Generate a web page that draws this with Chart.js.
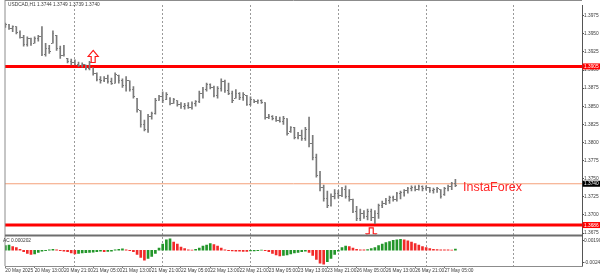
<!DOCTYPE html>
<html><head><meta charset="utf-8">
<script src="https://cdn.jsdelivr.net/npm/chart.js@4.4.1/dist/chart.umd.min.js"></script>
<style>html,body{margin:0;padding:0;background:#fff;overflow:hidden}canvas{display:block}</style>
</head><body>
<canvas id="chart" width="600" height="277"></canvas>
<script>
// ---------------- data ----------------
const symbol = 'USDCAD,H1';
const opens = [
1.3962,1.3963,1.3958,1.3960,1.3952,1.3945,1.3935,1.3944,1.3937,1.3944,
1.3946,1.3922,1.3930,1.3937,1.3948,1.3930,1.3920,1.3916,1.3912,1.3910,
1.3908,1.3906,1.3907,1.3902,1.3903,1.3895,1.3887,1.3885,1.3889,1.3884,
1.3882,1.3893,1.3885,1.3878,1.3885,1.3873,1.3861,1.3844,1.3825,1.3818,
1.3836,1.3840,1.3858,1.3863,1.3859,1.3861,1.3854,1.3858,1.3852,1.3849,
1.3851,1.3848,1.3854,1.3856,1.3868,1.3873,1.3880,1.3876,1.3865,1.3875,
1.3884,1.3872,1.3868,1.3861,1.3868,1.3862,1.3865,1.3853,1.3859,1.3857,
1.3858,1.3855,1.3834,1.3836,1.3833,1.3831,1.3829,1.3833,1.3815,1.3820,
1.3807,1.3810,1.3806,1.3818,1.3798,1.3779,1.3755,1.3738,1.3722,1.3713,
1.3726,1.3730,1.3727,1.3735,1.3726,1.3721,1.3705,1.3695,1.3702,1.3698,
1.3705,1.3696,1.3702,1.3713,1.3716,1.3720,1.3724,1.3721,1.3729,1.3731,
1.3733,1.3736,1.3738,1.3735,1.3739,1.3736,1.3738,1.3733,1.3735,1.3735,
1.3728,1.3736,1.3739,1.3744];
const highs = [
1.3965,1.3963,1.3961,1.3960,1.3954,1.3948,1.3946,1.3944,1.3946,1.3948,
1.3960,1.3937,1.3934,1.3954,1.3948,1.3933,1.3934,1.3916,1.3915,1.3914,
1.3911,1.3910,1.3907,1.3912,1.3903,1.3896,1.3891,1.3891,1.3893,1.3889,
1.3896,1.3893,1.3888,1.3891,1.3885,1.3877,1.3861,1.3844,1.3831,1.3839,
1.3842,1.3861,1.3865,1.3870,1.3869,1.3862,1.3861,1.3858,1.3855,1.3854,
1.3855,1.3856,1.3858,1.3871,1.3876,1.3882,1.3881,1.3878,1.3877,1.3888,
1.3886,1.3882,1.3871,1.3873,1.3869,1.3869,1.3865,1.3863,1.3859,1.3859,
1.3859,1.3855,1.3839,1.3837,1.3836,1.3835,1.3836,1.3833,1.3822,1.3821,
1.3814,1.3817,1.3821,1.3835,1.3810,1.3784,1.3760,1.3741,1.3733,1.3729,
1.3735,1.3734,1.3738,1.3740,1.3735,1.3722,1.3712,1.3708,1.3706,1.3708,
1.3708,1.3706,1.3715,1.3719,1.3723,1.3726,1.3726,1.3731,1.3733,1.3735,
1.3738,1.3740,1.3740,1.3741,1.3740,1.3740,1.3738,1.3737,1.3738,1.3735,
1.3738,1.3741,1.3745,1.3749];
const lows = [
1.3959,1.3956,1.3953,1.3950,1.3944,1.3933,1.3933,1.3934,1.3937,1.3940,
1.3920,1.3919,1.3923,1.3937,1.3927,1.3916,1.3919,1.3910,1.3907,1.3907,
1.3905,1.3904,1.3900,1.3900,1.3893,1.3885,1.3882,1.3884,1.3882,1.3880,
1.3882,1.3882,1.3876,1.3871,1.3871,1.3861,1.3842,1.3821,1.3816,1.3814,
1.3832,1.3839,1.3858,1.3855,1.3859,1.3852,1.3854,1.3850,1.3847,1.3846,
1.3847,1.3846,1.3850,1.3855,1.3861,1.3871,1.3874,1.3863,1.3861,1.3871,
1.3869,1.3866,1.3855,1.3861,1.3859,1.3858,1.3851,1.3851,1.3855,1.3854,
1.3854,1.3832,1.3833,1.3831,1.3829,1.3828,1.3825,1.3810,1.3814,1.3805,
1.3805,1.3803,1.3803,1.3794,1.3776,1.3752,1.3733,1.3719,1.3710,1.3712,
1.3722,1.3723,1.3725,1.3723,1.3719,1.3703,1.3692,1.3692,1.3695,1.3693,
1.3692,1.3688,1.3695,1.3710,1.3714,1.3716,1.3719,1.3719,1.3722,1.3726,
1.3730,1.3733,1.3733,1.3734,1.3733,1.3734,1.3731,1.3730,1.3731,1.3723,
1.3727,1.3733,1.3735,1.3739];
const closes = [
1.3963,1.3958,1.3960,1.3952,1.3945,1.3935,1.3944,1.3937,1.3944,1.3946,
1.3922,1.3930,1.3925,1.3950,1.3930,1.3920,1.3922,1.3912,1.3910,1.3908,
1.3906,1.3908,1.3902,1.3910,1.3895,1.3887,1.3885,1.3889,1.3884,1.3882,
1.3894,1.3885,1.3878,1.3886,1.3873,1.3863,1.3845,1.3825,1.3818,1.3836,
1.3840,1.3858,1.3863,1.3858,1.3866,1.3854,1.3859,1.3852,1.3849,1.3851,
1.3848,1.3854,1.3856,1.3868,1.3873,1.3880,1.3876,1.3865,1.3875,1.3884,
1.3872,1.3868,1.3858,1.3868,1.3862,1.3866,1.3853,1.3860,1.3857,1.3858,
1.3855,1.3834,1.3836,1.3833,1.3831,1.3829,1.3833,1.3812,1.3820,1.3807,
1.3810,1.3806,1.3818,1.3798,1.3779,1.3755,1.3738,1.3722,1.3713,1.3726,
1.3730,1.3727,1.3735,1.3726,1.3721,1.3705,1.3695,1.3702,1.3698,1.3705,
1.3696,1.3702,1.3713,1.3716,1.3720,1.3724,1.3721,1.3729,1.3731,1.3733,
1.3736,1.3738,1.3735,1.3739,1.3736,1.3738,1.3733,1.3735,1.3737,1.3726,
1.3736,1.3739,1.3744,1.3740];
const acValues = [
0.0009,0.0010,0.0007,0.0005,0.0002,-0.0003,-0.0006,-0.0008,-0.0007,-0.0004,
-0.0002,-0.0001,0.0001,0.0002,0.0001,-0.0001,-0.0002,-0.0003,-0.0005,-0.0007,
-0.0006,-0.0005,-0.00045,-0.0004,-0.00035,-0.0003,-0.0002,-0.0003,-0.00025,-0.0002,
0.0001,0.0002,0.00025,0.0001,-0.0001,-0.0003,-0.0008,-0.0014,-0.0019,-0.0016,
-0.0012,-0.0006,0.0004,0.0012,0.0020,0.0022,0.0016,0.0012,0.0006,0.0003,
0.0001,0.00005,0.0002,0.0004,0.0008,0.0010,0.0013,0.0011,0.0008,0.0004,
0.0001,-0.0001,-0.00012,-0.00018,-0.0002,-0.00022,-0.00024,-0.00015,-0.00012,-0.00008,
0.00005,-0.0001,-0.0003,-0.0006,-0.0009,-0.0011,-0.0010,-0.0009,-0.0007,-0.0005,
-0.0004,-0.0003,-0.0002,-0.0004,-0.0010,-0.0018,-0.0025,-0.0027,-0.0022,-0.0016,
-0.0008,-0.0002,0.0005,0.0008,0.0007,0.0004,0.0002,0.0001,0.00008,0.00012,
0.0003,0.0005,0.0009,0.0012,0.0015,0.0017,0.0019,0.0020,0.0021,0.0020,
0.0018,0.0016,0.0013,0.0010,0.0007,0.0005,0.0003,0.0002,0.00015,0.0001,
0.00008,0.00006,0.00004,0.000202];
const xTickLabels = ['20 May 2025','20 May 13:00','20 May 21:00','21 May 05:00','21 May 13:00','21 May 21:00',
  '22 May 05:00','22 May 13:00','22 May 21:00','23 May 05:00','23 May 13:00','23 May 21:00',
  '26 May 05:00','26 May 13:00','26 May 21:00','27 May 05:00'];
const xTickBars = [0,8,16,24,32,40,48,56,64,72,80,88,96,104,112,120];
const daySeparatorBars = [19,43,67,91,115,139];
const priceTicks = [1.3675,1.3700,1.3725,1.3750,1.3775,1.3800,1.3825,1.3850,1.3875,1.3900,1.3925,1.3950,1.3975];
const acTicks = [-0.0024, 0, 0.001904];
const acTickLabels = ['-0.00240', '0.00', '0.001904'];
const resistanceLevel = 1.3905;
const supportLevel = 1.3686;
const askLevel = 1.3743;
const bidLabel = '1.3740';
const upArrows = [{bar: 24, price: 1.3927}];
const downArrows = [{bar: 100, price: 1.3682}];

// ---------------- layout / style ----------------
const X_MIN = -0.1, X_MAX = 157.6;
const Y_MIN = 1.36716, Y_MAX = 1.39898;
const AC_MIN = -0.00305, AC_MAX = 0.00286;
const FONT = '"Liberation Sans", Arial, sans-serif';
const tinyFont = {family: FONT, size: 4.8};
const barColor = '#7a7a7a';
const textColor = '#3a3a3a';

function makeTick(side) {
  const c = document.createElement('canvas');
  c.width = 3; c.height = 1;
  const g = c.getContext('2d');
  g.fillStyle = barColor;
  g.fillRect(side === 'open' ? 0 : 2, 0, 1, 1);
  return c;
}
const hline = lvl => [{x: X_MIN, y: lvl}, {x: X_MAX, y: lvl}];
const acColors = acValues.map((v, i) => (i === 0 || v > acValues[i - 1]) ? '#23962a' : '#f22a2a');

const decor = {
  id: 'decor',
  afterDraw(chart) {
    const {ctx, chartArea: a, scales} = chart;
    const x = scales.x, y = scales.y;
    ctx.save();
    // arrows (clipped to the price pane)
    ctx.save();
    ctx.beginPath();
    ctx.rect(a.left, a.top, a.right - a.left, y.bottom - a.top - 1);
    ctx.clip();
    ctx.lineWidth = 1.2;
    ctx.strokeStyle = '#ff1a1a';
    ctx.fillStyle = '#ffffff';
    upArrows.forEach(p => {
      const cx = x.getPixelForValue(p.bar), ty = y.getPixelForValue(p.price);
      ctx.beginPath();
      ctx.moveTo(cx, ty); ctx.lineTo(cx + 5, ty + 6); ctx.lineTo(cx + 2, ty + 6);
      ctx.lineTo(cx + 2, ty + 12); ctx.lineTo(cx - 2, ty + 12); ctx.lineTo(cx - 2, ty + 6);
      ctx.lineTo(cx - 5, ty + 6); ctx.closePath();
      ctx.fill(); ctx.stroke();
    });
    downArrows.forEach(p => {
      const cx = x.getPixelForValue(p.bar), ty = y.getPixelForValue(p.price);
      ctx.beginPath();
      ctx.moveTo(cx - 2, ty); ctx.lineTo(cx + 2, ty); ctx.lineTo(cx + 2, ty + 6);
      ctx.lineTo(cx + 5, ty + 6); ctx.lineTo(cx, ty + 12); ctx.lineTo(cx - 5, ty + 6);
      ctx.lineTo(cx - 2, ty + 6); ctx.closePath();
      ctx.fill(); ctx.stroke();
    });
    ctx.restore();

    // frames
    ctx.strokeStyle = '#8c8c8c';
    ctx.lineWidth = 1;
    ctx.beginPath();
    ctx.moveTo(a.left, 0.5); ctx.lineTo(a.right, 0.5);
    ctx.moveTo(a.left, 0); ctx.lineTo(a.left, a.bottom);
    ctx.stroke();
    ctx.strokeStyle = '#6e6e6e';
    ctx.lineWidth = 2;
    ctx.beginPath();
    ctx.moveTo(a.left, y.bottom); ctx.lineTo(a.right, y.bottom);
    ctx.stroke();

    // texts
    const last = closes.length - 1;
    ctx.font = `${tinyFont.size}px ${FONT}`;
    ctx.fillStyle = textColor;
    ctx.textBaseline = 'middle';
    ctx.textAlign = 'left';
    ctx.fillText(`${symbol} ${opens[last].toFixed(4)} ${highs[last].toFixed(4)} ${lows[last].toFixed(4)} ${closes[last].toFixed(4)}`, 8, 5);
    ctx.fillText(`AC ${acValues[last].toFixed(6)}`, 3, y.bottom + 5);

    // price boxes on the axis
    const box = (price, text, bg) => {
      const py = y.getPixelForValue(price);
      ctx.fillStyle = bg;
      ctx.fillRect(a.right + 0.5, py - 3, 600 - a.right, 6);
      ctx.fillStyle = '#ffffff';
      ctx.fillText(text, a.right + 2, py + 0.3);
    };
    box(resistanceLevel, resistanceLevel.toFixed(4), '#ff0000');
    box(supportLevel, supportLevel.toFixed(4), '#ff0000');
    box(askLevel, bidLabel, '#000000');

    // watermark
    ctx.font = `12.5px ${FONT}`;
    ctx.fillStyle = '#ff2424';
    ctx.textBaseline = 'alphabetic';
    ctx.fillText('InstaForex', 463, 190.5);
    ctx.restore();
  }
};

new Chart(document.getElementById('chart'), {
  type: 'bar',
  data: {
    datasets: [
      {type: 'bar', xAxisID: 'x', yAxisID: 'y', grouped: false, barThickness: 1, borderWidth: 0,
       backgroundColor: barColor, data: highs.map((h, i) => ({x: i, y: [lows[i], h]}))},
      {type: 'scatter', xAxisID: 'x', yAxisID: 'y', pointStyle: makeTick('open'), pointRadius: 1,
       data: opens.map((v, i) => ({x: i, y: v}))},
      {type: 'scatter', xAxisID: 'x', yAxisID: 'y', pointStyle: makeTick('close'), pointRadius: 1,
       data: closes.map((v, i) => ({x: i, y: v}))},
      {type: 'bar', xAxisID: 'x', yAxisID: 'yac', grouped: false, barThickness: 2, borderWidth: 0,
       backgroundColor: acColors, data: acValues.map((v, i) => ({x: i, y: v}))},
      {type: 'line', xAxisID: 'x', yAxisID: 'y', data: hline(askLevel), borderColor: '#f4a07a', borderWidth: 1, pointRadius: 0, clip: 0},
      {type: 'line', xAxisID: 'x', yAxisID: 'y', data: hline(resistanceLevel), borderColor: '#ff0000', borderWidth: 3, pointRadius: 0, clip: 0},
      {type: 'line', xAxisID: 'x', yAxisID: 'y', data: hline(supportLevel), borderColor: '#ff0000', borderWidth: 3, pointRadius: 0, clip: 0}
    ]
  },
  options: {
    responsive: false, animation: false, events: [], devicePixelRatio: 1,
    layout: {padding: {left: 1.5, top: 1, right: 0, bottom: 0}},
    plugins: {legend: {display: false}, tooltip: {enabled: false}, title: {display: false}},
    scales: {
      y: {
        type: 'linear', position: 'right', stack: 'panes', stackWeight: 234, min: Y_MIN, max: Y_MAX, offset: false,
        afterBuildTicks: s => { s.ticks = priceTicks.map(v => ({value: v})); },
        afterFit: s => { s.width = 18; },
        ticks: {padding: 0, font: tinyFont, color: textColor, callback: v => Number(v).toFixed(4)},
        grid: {drawOnChartArea: false, drawTicks: true, tickLength: 2, tickColor: '#555'},
        border: {display: true, color: '#555'}
      },
      yac: {
        type: 'linear', position: 'right', stack: 'panes', stackWeight: 31, min: AC_MIN, max: AC_MAX, offset: false,
        afterBuildTicks: s => { s.ticks = acTicks.map(v => ({value: v})); },
        afterFit: s => { s.width = 18; },
        ticks: {padding: 0, font: tinyFont, color: textColor, callback: v => acTickLabels[acTicks.indexOf(v)]},
        grid: {drawOnChartArea: false, drawTicks: true, tickLength: 2, tickColor: '#555'},
        border: {display: true, color: '#555'}
      },
      x: {
        type: 'linear', position: 'bottom', min: X_MIN, max: X_MAX, offset: false,
        afterBuildTicks: s => { s.ticks = xTickBars.map(v => ({value: v})); },
        afterFit: s => { s.height = 11; },
        ticks: {autoSkip: false, maxRotation: 0, minRotation: 0, align: 'start', padding: 0, font: tinyFont, color: textColor,
                callback: v => { const k = xTickBars.indexOf(v); return k >= 0 ? xTickLabels[k] : ''; }},
        grid: {display: true, drawOnChartArea: false, drawTicks: true, tickLength: 2, tickColor: '#777', offset: false},
        border: {display: true, color: '#8c8c8c'}
      },
      xg: {
        type: 'linear', position: 'top', min: X_MIN, max: X_MAX, offset: false,
        afterBuildTicks: s => { s.ticks = daySeparatorBars.map(v => ({value: v})); },
        afterFit: s => { s.height = 0; },
        ticks: {display: false},
        grid: {display: true, drawOnChartArea: true, drawTicks: false, color: '#9a9a9a', lineWidth: 1, offset: false},
        border: {display: false, dash: [2, 2]}
      }
    }
  },
  plugins: [decor]
});
</script>
</body></html>
